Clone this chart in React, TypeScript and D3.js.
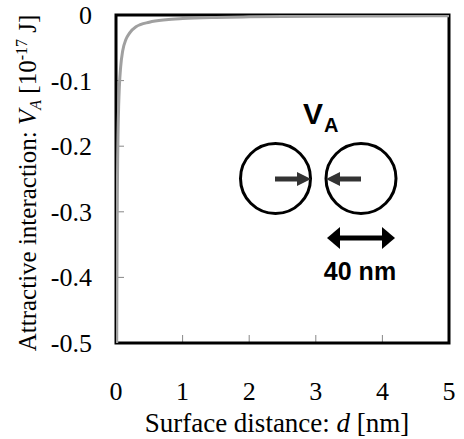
import React from "react";
import * as d3 from "d3";

const distance = [0.011, 0.013, 0.016, 0.02, 0.025, 0.03, 0.04, 0.05, 0.07, 0.1, 0.15, 0.2, 0.3, 0.5, 0.75, 1, 1.5, 2, 3, 4, 5];
const energy = [-0.5, -0.423, -0.344, -0.275, -0.22, -0.183, -0.138, -0.11, -0.079, -0.055, -0.037, -0.028, -0.018, -0.011, -0.0073, -0.0055, -0.0037, -0.0028, -0.0018, -0.0014, -0.0011];
const xTicks = [0, 1, 2, 3, 4, 5];
const yTicks = [0, -0.1, -0.2, -0.3, -0.4, -0.5];
const yTickLabels = ["0", "-0.1", "-0.2", "-0.3", "-0.4", "-0.5"];

const W = 464, H = 439;
const L = 116, T = 15, R = 449, B = 343;

const SERIF = "Liberation Serif";
const SANS = "Liberation Sans";

export default function App() {
  const x = d3.scaleLinear().domain([0, 5]).range([L, R]);
  const y = d3.scaleLinear().domain([-0.5, 0]).range([B, T]);
  const pts = distance.map((d, i) => [d, energy[i]] as [number, number]);
  const line = d3.line<[number, number]>().x(d => x(d[0])).y(d => y(d[1])).curve(d3.curveMonotoneX);
  return (
    <svg width={W} height={H} style={{ position: "absolute", left: 0, top: 0, background: "#fff" }}>
      <defs>
        <clipPath id="plot"><rect x={L} y={T} width={R - L} height={B - T} /></clipPath>
      </defs>
      {xTicks.slice(1, -1).map(t => (
        <line key={"xt" + t} x1={x(t)} x2={x(t)} y1={B} y2={B - 8} stroke="#888" strokeWidth={1} />
      ))}
      {yTicks.slice(1, -1).map(t => (
        <line key={"yt" + t} x1={L} x2={L + 8} y1={y(t)} y2={y(t)} stroke="#888" strokeWidth={1} />
      ))}
      <rect x={L} y={T} width={R - L} height={B - T} fill="none" stroke="#000" strokeWidth={3} />
      <path d={line(pts) || ""} fill="none" stroke="#a0a0a0" strokeWidth={3} clipPath="url(#plot)" />
      <g fontFamily={SERIF} fill="#000">
        {yTicks.map((t, i) => (
          <text key={"yl" + t} x={92} y={y(t) + 9} textAnchor="end" fontFamily={SERIF} fontSize={26}>
            {yTickLabels[i]}
          </text>
        ))}
        {xTicks.map(t => (
          <text key={"xl" + t} x={x(t)} y={400} textAnchor="middle" fontFamily={SERIF} fontSize={26}>
            {String(t)}
          </text>
        ))}
        <text x={277} y={432} textAnchor="middle" fontFamily={SERIF} fontSize={27}>
          Surface distance: <tspan fontStyle="italic">d</tspan> [nm]
        </text>
        <text transform={`translate(36,${183}) rotate(-90)`} textAnchor="middle" fontFamily={SERIF} fontSize={25}>
          Attractive interaction: <tspan fontStyle="italic">V</tspan>
          <tspan fontStyle="italic" fontSize={16} dy={5}>A</tspan>
          <tspan dy={-5}> [10</tspan>
          <tspan fontSize={16} dy={-9}>-17</tspan>
          <tspan dy={9}> J]</tspan>
        </text>
      </g>
      {/* inset */}
      <g fontFamily={SANS} fontWeight="bold" fill="#000">
        <text x={303} y={124} fontSize={30}>V</text>
        <text x={324} y={132} fontSize={20}>A</text>
        <text x={360} y={280} textAnchor="middle" fontSize={25}>40 nm</text>
      </g>
      <circle cx={275.5} cy={178.5} r={35} fill="none" stroke="#000" strokeWidth={3} />
      <circle cx={361} cy={178.5} r={35} fill="none" stroke="#000" strokeWidth={3} />
      <line x1={275} x2={298} y1={179} y2={179} stroke="#333" strokeWidth={5} />
      <polygon points="297,172 311,179 297,186" fill="#333" />
      <line x1={361} x2={339} y1={179} y2={179} stroke="#333" strokeWidth={5} />
      <polygon points="340,172 326,179 340,186" fill="#333" />
      <line x1={338} x2={384} y1={238} y2={238} stroke="#000" strokeWidth={5} />
      <polygon points="340,227 327,238 340,249" fill="#000" />
      <polygon points="382,227 395,238 382,249" fill="#000" />
    </svg>
  );
}
